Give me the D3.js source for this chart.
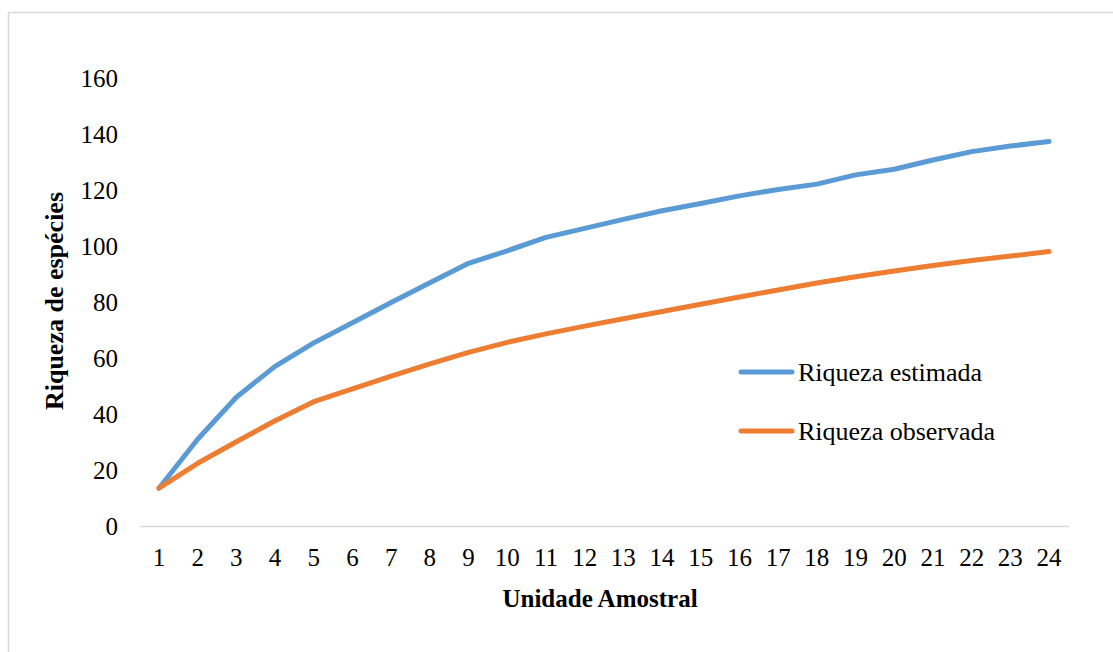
<!DOCTYPE html>
<html>
<head>
<meta charset="utf-8">
<script src="https://cdn.jsdelivr.net/npm/d3@7"></script>
<style>
  html, body { margin: 0; padding: 0; background: #fff; }
  svg { display: block; }
  text { font-family: "Liberation Serif", "Times New Roman", serif; fill: #000; }
</style>
</head>
<body>
<svg id="chart" width="1113" height="652"></svg>
<script>
// Sample units on the x axis
const unidades = d3.range(1, 25);
// Estimated species richness per sample unit
const riquezaEstimada = [13.5, 31, 46, 57, 65.4, 72.6, 79.8, 86.9, 93.8, 98.3, 103.1, 106.3,
                         109.5, 112.6, 115.2, 117.9, 120.2, 122.1, 125.4, 127.4, 130.7, 133.7, 135.7, 137.3];
// Observed species richness per sample unit
const riquezaObservada = [13.5, 22.4, 30.1, 37.6, 44.4, 49, 53.5, 57.9, 62, 65.6, 68.6, 71.4,
                          74, 76.6, 79.2, 81.8, 84.3, 86.8, 89, 91.1, 93, 94.8, 96.4, 98];
const yTicks = [0, 20, 40, 60, 80, 100, 120, 140, 160];
const seriesNames = ["Riqueza estimada", "Riqueza observada"];
const seriesColors = ["#5B9BD5", "#ED7D31"];

const svg = d3.select("#chart");

// chart frame
svg.append("rect")
  .attr("x", 8.5).attr("y", 12.5)
  .attr("width", 1200).attr("height", 700)
  .attr("fill", "none").attr("stroke", "#d9d9d9").attr("stroke-width", 1.5);

const x = d3.scaleBand().domain(unidades).range([139.6, 1068.4]).padding(0);
const y = d3.scaleLinear().domain([0, 160]).range([526, 78]);
const cx = d => x(d) + x.bandwidth() / 2;

// y axis (labels only)
const yAxis = svg.append("g")
  .attr("transform", "translate(118,0)")
  .call(d3.axisLeft(y).tickValues(yTicks).tickSize(0).tickPadding(0));
yAxis.select(".domain").remove();
yAxis.selectAll("text")
  .attr("font-size", 25).attr("dy", "0.34em")
  .style("font-family", '"Liberation Serif", "Times New Roman", serif');

// x axis
const xAxis = svg.append("g")
  .attr("transform", "translate(0,526)")
  .call(d3.axisBottom(x).tickSize(0).tickPadding(0));
xAxis.select(".domain").attr("stroke", "#d9d9d9").attr("stroke-width", 1.5);
xAxis.selectAll("text")
  .attr("font-size", 25).attr("y", 40).attr("dy", 0)
  .style("font-family", '"Liberation Serif", "Times New Roman", serif');

// series lines
const line = d3.line().x((d, i) => cx(unidades[i])).y(d => y(d));
[riquezaEstimada, riquezaObservada].forEach((vals, i) => {
  svg.append("path")
    .datum(vals)
    .attr("d", line)
    .attr("fill", "none")
    .attr("stroke", seriesColors[i])
    .attr("stroke-width", 5)
    .attr("stroke-linejoin", "round")
    .attr("stroke-linecap", "round");
});

// axis titles
svg.append("text")
  .attr("x", 600).attr("y", 607)
  .attr("text-anchor", "middle")
  .attr("font-size", 25).attr("font-weight", "bold")
  .text("Unidade Amostral");

svg.append("text")
  .attr("transform", "translate(63,301) rotate(-90)")
  .attr("text-anchor", "middle")
  .attr("font-size", 26).attr("font-weight", "bold")
  .text("Riqueza de espécies");

// legend
const legend = svg.append("g");
seriesNames.forEach((name, i) => {
  const ly = 372 + i * 59;
  legend.append("line")
    .attr("x1", 741).attr("x2", 792)
    .attr("y1", ly).attr("y2", ly)
    .attr("stroke", seriesColors[i]).attr("stroke-width", 5)
    .attr("stroke-linecap", "round");
  legend.append("text")
    .attr("x", 798).attr("y", ly + 9)
    .attr("font-size", 26)
    .text(name);
});
</script>
</body>
</html>
